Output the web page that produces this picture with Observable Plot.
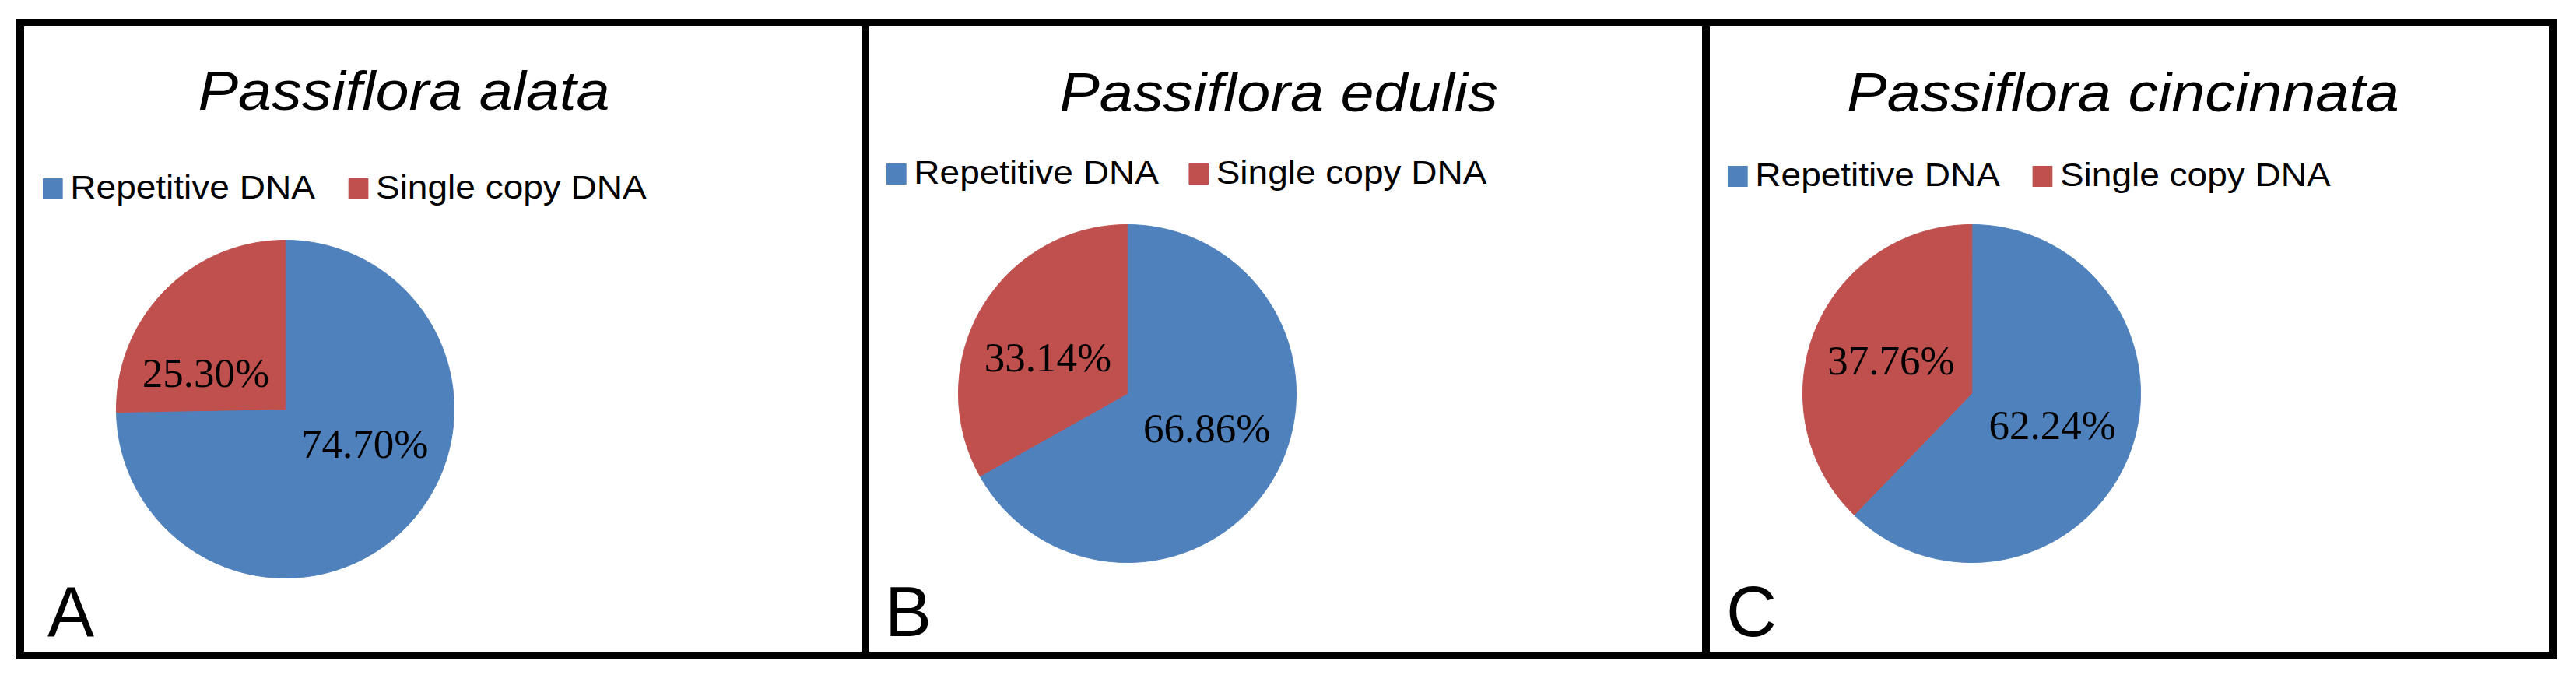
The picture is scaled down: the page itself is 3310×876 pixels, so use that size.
<!DOCTYPE html>
<html>
<head>
<meta charset="utf-8">
<script src="https://cdn.jsdelivr.net/npm/d3@7"></script>
<script src="https://cdn.jsdelivr.net/npm/@observablehq/plot@0.6"></script>
<style>
  html, body { margin: 0; padding: 0; background: #fff; }
  #root { position: relative; width: 3310px; height: 876px; overflow: hidden; background: #fff;
          font-family: "Liberation Sans", Arial, sans-serif; color: #000; }
  .frame { position: absolute; left: 21px; top: 24px; width: 3264px; height: 823px;
           border: 10px solid #000; box-sizing: border-box; }
  .divider { position: absolute; top: 24px; width: 10px; height: 823px; background: #000; }
  .title { position: absolute; font-style: italic; font-size: 71px; line-height: 71px;
           white-space: nowrap; transform: translateX(-50%) scaleX(1.09); transform-origin: center; }
  .legend { position: absolute; display: flex; align-items: center; font-size: 43px;
            line-height: 43px; white-space: nowrap; transform: scaleX(1.07); transform-origin: left center; }
  .item { display: flex; align-items: center; }
  .swatch { display: inline-block; width: 24px; height: 27px; margin-right: 9px; position: relative; top: 2px; }
  .letter { position: absolute; font-size: 90px; line-height: 90px; }
  .pie { position: absolute; }
</style>
</head>
<body>
<div id="root">
  <div class="frame"></div>
  <div class="divider" style="left:1107px"></div>
  <div class="divider" style="left:2187px"></div>
</div>
<script>
// ---------------- data ----------------
const species = ["Passiflora alata", "Passiflora edulis", "Passiflora cincinnata"];
const panelLetters = ["A", "B", "C"];
const categories = ["Repetitive DNA", "Single copy DNA"];
const repetitiveDNA = [74.70, 66.86, 62.24];
const singleCopyDNA = [25.30, 33.14, 37.76];
const sliceColors = ["#4F81BD", "#C0504D"];

// ---------------- layout (page pixels) ----------------
const pieRadius = 217;
const layout = [
  {pie: [366, 525], title: [519, 141], legend: [55, 255], letter: [61, 817], gap: 40},
  {pie: [1448, 505], title: [1643, 143], legend: [1139, 236], letter: [1137, 817], gap: 36},
  {pie: [2533, 505], title: [2728, 143], legend: [2220, 239], letter: [2218, 817], gap: 39}
];

const root = document.getElementById("root");

function slicePolygon(a0, a1) {
  const n = Math.max(2, Math.ceil((a1 - a0) / (Math.PI / 360)));
  const pts = [[0, 0]];
  for (let i = 0; i <= n; ++i) {
    const a = a0 + (a1 - a0) * i / n;
    pts.push([Math.sin(a), Math.cos(a)]);
  }
  pts.push([0, 0]);
  return pts;
}

const labelRadius = 0.515;
const maxTilt = 24 * Math.PI / 180;

species.forEach((name, i) => {
  const L = layout[i];
  const values = [repetitiveDNA[i], singleCopyDNA[i]];
  const rows = categories.map((c, j) => ({category: c, value: values[j]}));
  const arcs = d3.pie().sort(null).value(d => d.value)(rows);

  const features = arcs.map(a => ({
    type: "Feature",
    properties: {category: a.data.category},
    geometry: {type: "Polygon", coordinates: [slicePolygon(a.startAngle, a.endAngle)]}
  }));

  const labels = arcs.map(a => {
    const m = (a.startAngle + a.endAngle) / 2;
    const sx = Math.sin(m), sy = Math.cos(m);
    let tilt = Math.asin(Math.max(-1, Math.min(1, sy)));
    tilt = Math.max(-maxTilt, Math.min(maxTilt, tilt));
    return {
      lon: Math.sign(sx) * labelRadius * Math.cos(tilt),
      lat: labelRadius * Math.sin(tilt),
      text: a.data.value.toFixed(2) + "%"
    };
  });

  const size = pieRadius * 2;
  const chart = Plot.plot({
    width: size,
    height: size,
    margin: 0,
    style: {background: "transparent", overflow: "visible"},
    projection: {
      type: "reflect-y",
      domain: {type: "MultiPoint", coordinates: [[-1, -1], [1, 1]]},
      inset: 0
    },
    color: {domain: categories, range: sliceColors},
    marks: [
      Plot.geo(features, {
        fill: d => d.properties.category,
        stroke: d => d.properties.category,
        strokeWidth: 1
      }),
      Plot.text(labels, {
        x: "lon",
        y: "lat",
        text: "text",
        fontFamily: "'Liberation Serif', 'Times New Roman', serif",
        fontSize: 53,
        fill: "#000",
        textAnchor: "middle"
      })
    ]
  });
  const pieDiv = document.createElement("div");
  pieDiv.className = "pie";
  pieDiv.style.left = (L.pie[0] - pieRadius) + "px";
  pieDiv.style.top = (L.pie[1] - pieRadius) + "px";
  pieDiv.style.width = size + "px";
  pieDiv.style.height = size + "px";
  pieDiv.appendChild(chart);
  root.appendChild(pieDiv);

  // title
  const t = document.createElement("div");
  t.className = "title";
  t.textContent = name;
  t.style.left = L.title[0] + "px";
  t.style.top = (L.title[1] - Math.round(0.8465 * 71)) + "px";
  root.appendChild(t);

  // legend
  const lg = document.createElement("div");
  lg.className = "legend";
  lg.style.left = L.legend[0] + "px";
  lg.style.top = (L.legend[1] - Math.round(0.8465 * 43)) + "px";
  categories.forEach((c, j) => {
    const it = document.createElement("div");
    it.className = "item";
    if (j < categories.length - 1) it.style.marginRight = L.gap + "px";
    const sw = document.createElement("span");
    sw.className = "swatch";
    sw.style.background = sliceColors[j];
    const lab = document.createElement("span");
    lab.textContent = c;
    it.appendChild(sw);
    it.appendChild(lab);
    lg.appendChild(it);
  });
  root.appendChild(lg);

  // panel letter
  const le = document.createElement("div");
  le.className = "letter";
  le.textContent = panelLetters[i];
  le.style.left = L.letter[0] + "px";
  le.style.top = (L.letter[1] - Math.round(0.8465 * 90)) + "px";
  root.appendChild(le);
});
</script>
</body>
</html>
